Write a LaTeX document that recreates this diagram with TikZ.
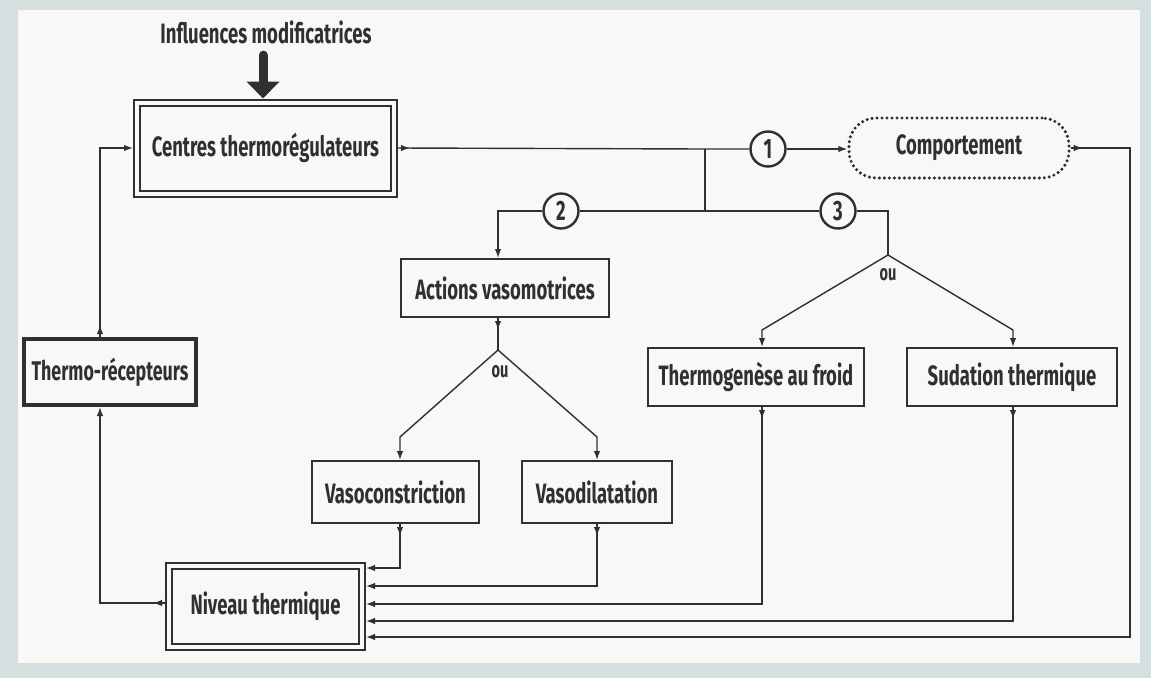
\documentclass[tikz,border=0pt]{standalone}
\usepackage{fontspec}
\newfontfamily\lab{Fira Sans}[FakeStretch=0.66]
\usetikzlibrary{arrows.meta,decorations.markings,calc}
\definecolor{bg}{HTML}{D6DFDF}
\definecolor{paper}{HTML}{F8F8F6}
\definecolor{ink}{HTML}{303030}
\begin{document}
\begin{tikzpicture}[x=1pt,y=-1pt,
  txt/.style={font=\lab\bfseries\fontsize{28}{30}\selectfont, text=ink},
  box/.style={txt, draw=ink, line width=2pt, inner sep=0pt},
  tbox/.style={box, line width=4pt},
  dbox/.style={box, double=paper, double distance=4pt, line width=2pt, outer sep=4pt},
  cbox/.style={box, line width=3.4pt, dash pattern=on 0pt off 5pt, line cap=round, rounded corners=27pt},
  num/.style={circle, draw=ink, line width=2.4pt, minimum size=35pt, inner sep=0pt, fill=paper,
    font=\lab\bfseries\fontsize{28}{30}\selectfont, text=ink},
  oulbl/.style={font=\lab\bfseries\fontsize{22}{24}\selectfont, text=ink},
  conn/.style={draw=ink, line width=1.4pt},
  tip/.style={-{Latex[length=9pt,width=6.5pt]}},
  startarr/.style={postaction={decorate}, decoration={markings,
    mark=at position 12pt with {\arrow{Latex[length=9pt,width=6.5pt]}}}}
]
\useasboundingbox (0,0) rectangle (1151,678);
\fill[bg] (0,0) rectangle (1151,678);
\fill[paper] (18,10) rectangle (1140,663);

% nodes
\node[txt] (infl) at (266,32) {Influences modificatrices};
\node[dbox, minimum width=257pt, minimum height=91pt] (cen) at (265.5,148) {Centres thermorégulateurs};
\node[tbox, minimum width=172pt, minimum height=66pt, font=\lab\bfseries\fontsize{27}{29}\selectfont] (rec) at (110,372) {Thermo-récepteurs};
\node[dbox, minimum width=193pt, minimum height=81pt] (niv) at (265.5,606.5) {Niveau thermique};
\node[box, minimum width=208pt, minimum height=58pt] (act) at (505,288) {Actions vasomotrices};
\node[box, minimum width=167pt, minimum height=62pt] (vc) at (395.5,492) {Vasoconstriction};
\node[box, minimum width=150pt, minimum height=62pt] (vd) at (597,492) {Vasodilatation};
\node[box, minimum width=216pt, minimum height=58pt] (tg) at (756,377) {Thermogenèse au froid};
\node[box, minimum width=210pt, minimum height=58pt] (su) at (1012,377) {Sudation thermique};
\node[cbox, minimum width=220pt, minimum height=60pt] (comp) at (959,148) {Comportement};

\node[num] (n1) at (768,149) {1};
\node[num] (n2) at (561,211) {2};
\node[num] (n3) at (838,211) {3};

\node[oulbl] (ou1) at (500,372) {ou};
\node[oulbl] (ou2) at (888,275) {ou};

% coordinates
\coordinate (j) at (705,149);
\coordinate (j2) at (705,211);
\coordinate (a2) at (498,211);
\coordinate (f3) at (888,255);
\coordinate (f2) at (498,350);
\coordinate (v1) at (400,437);
\coordinate (v2) at (597,437);
\coordinate (t1) at (762,330);
\coordinate (s1) at (1013,330);
\coordinate (b1) at (400,568);
\coordinate (b2) at (597,586);
\coordinate (b3) at (762,604);
\coordinate (b4) at (1013,621);
\coordinate (c5) at (1130,148);
\coordinate (b5) at (1130,637);
\coordinate (l1) at (100,148);
\coordinate (l2) at (100,603);

% big arrow
\draw[ink, line width=9pt, line cap=round, -{Triangle[length=17pt,width=32pt]}]
  ($(infl.south)+(-3,8)$) -- (cen.north -| 263,0);

% top branches
\draw[conn, startarr] (cen.east) -- (j) -- (n1);
\draw[conn, tip] (n1) -- (comp.west |- n1);
\draw[conn] (j) -- (j2);
\draw[conn] (j2) -- (n2);
\draw[conn, tip] (n2) -| (act.north -| a2);
\draw[conn] (j2) -- (n3);
\draw[conn] (n3) -| (f3);
\draw[conn, tip] (f3) -- (t1) -- (t1 |- tg.north);
\draw[conn, tip] (f3) -- (s1) -- (s1 |- su.north);

% vasomotor fork
\draw[conn, startarr] (act.south -| f2) -- (f2);
\draw[conn, tip] (f2) -- (v1) -- (v1 |- vc.north);
\draw[conn, tip] (f2) -- (v2) -- (v2 |- vd.north);

% returns to Niveau thermique
\draw[conn, startarr, tip] (vc.south -| b1) -- (b1) -- (niv.east |- b1);
\draw[conn, startarr, tip] (vd.south -| b2) -- (b2) -- (niv.east |- b2);
\draw[conn, startarr, tip] (tg.south -| b3) -- (b3) -- (niv.east |- b3);
\draw[conn, startarr, tip] (su.south -| b4) -- (b4) -- (niv.east |- b4);
\draw[conn, startarr, tip] (comp.east) -- (c5) -- (b5) -- (niv.east |- b5);

% left loop
\draw[conn, startarr, tip] (rec.north -| l1) -- (l1) -- (cen.west |- l1);
\draw[conn, startarr, tip] (niv.west |- l2) -- (l2) -- (rec.south -| l2);
\end{tikzpicture}
\end{document}
